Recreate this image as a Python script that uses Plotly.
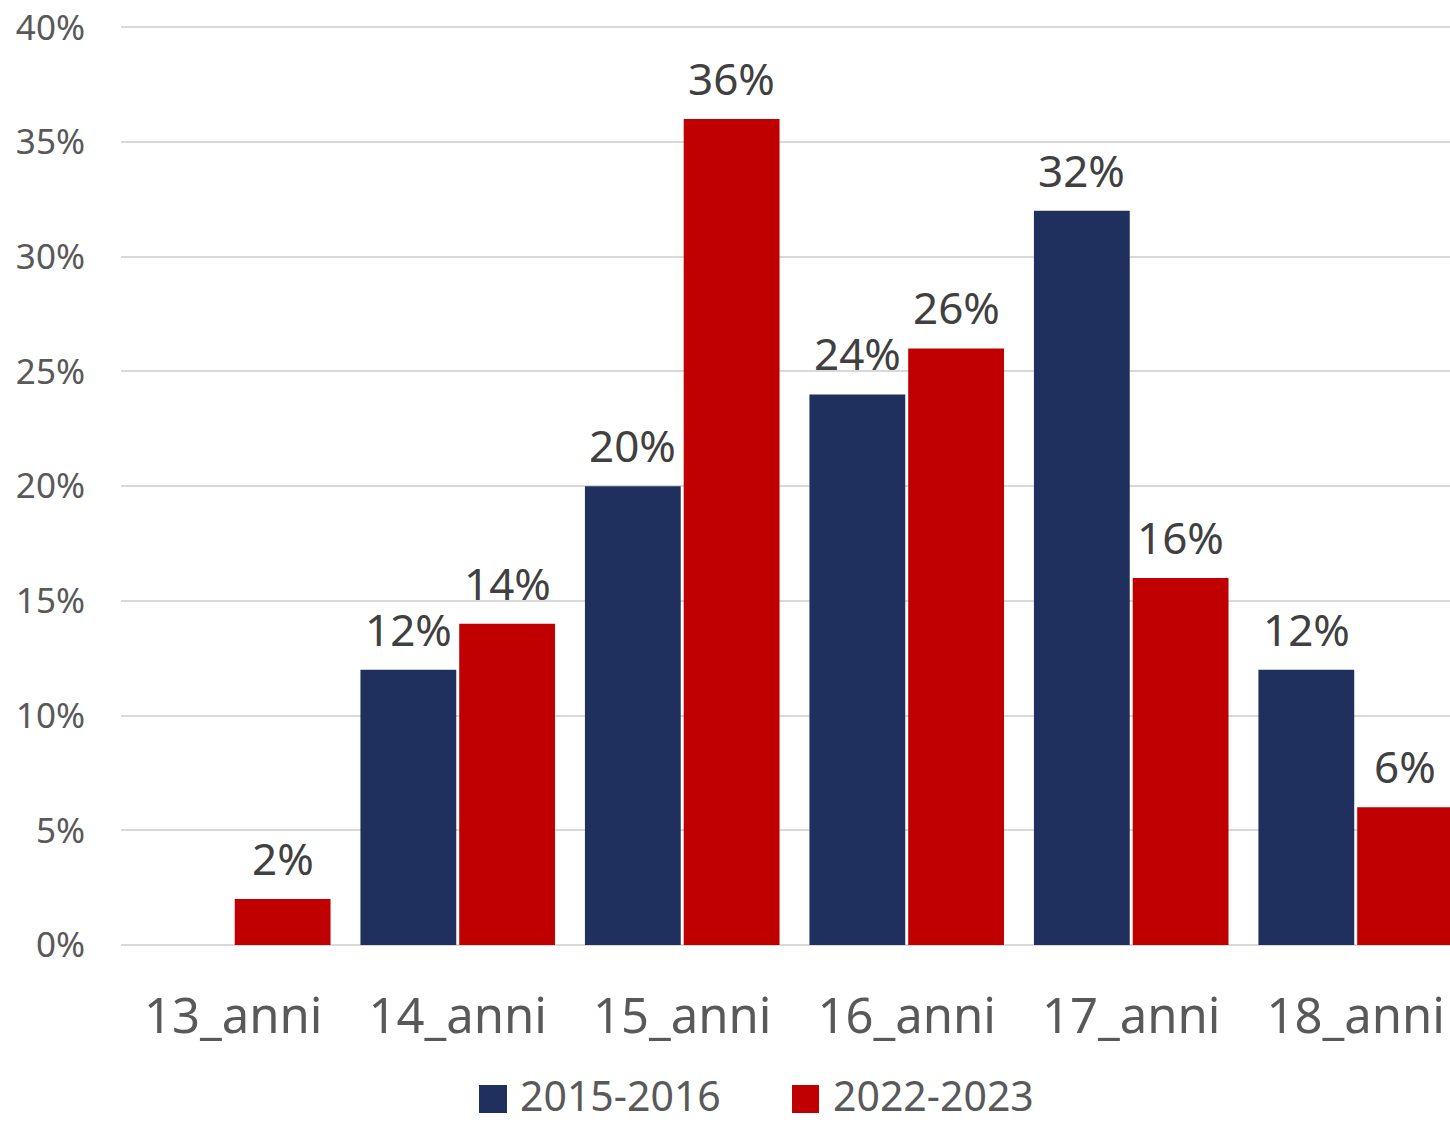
import plotly.graph_objects as go

categories = ["13_anni", "14_anni", "15_anni", "16_anni", "17_anni", "18_anni"]
s2015 = [None, 12, 20, 24, 32, 12]
s2022 = [2, 14, 36, 26, 16, 6]
series_names = ["2015-2016", "2022-2023"]
colors = ["#1F305E", "#C00000"]
y_ticks = [0, 5, 10, 15, 20, 25, 30, 35, 40]
y_tick_labels = [f"{v}%" for v in y_ticks]

FONT = "Noto Sans"
W, H = 1450, 1126
ML, MR, MT, MB = 121, 0, 25, 181
BARGAP = 0.12
XRANGE = [-0.5, 5.42]
YRANGE = [0, 40.1]

plot_w = W - ML - MR
plot_h = H - MT - MB
cat_px = plot_w / (XRANGE[1] - XRANGE[0])
slot_px = cat_px * (1 - BARGAP) / 2

fig = go.Figure()
annotations = []
for i, (name, vals, col) in enumerate(zip(series_names, [s2015, s2022], colors)):
    fig.add_trace(go.Bar(
        name=name, x=categories, y=vals, marker_color=col,
        marker_line_width=0, showlegend=False,
    ))
    for c, v in zip(categories, vals):
        if v is None:
            continue
        annotations.append(dict(
            x=c, y=v, xref="x", yref="y", text=f"{v}%", showarrow=False,
            xanchor="center", yanchor="bottom", xshift=(i - 0.5) * slot_px, yshift=9,
            font=dict(family=FONT, size=44, color="#404040"),
        ))

# legend drawn as shapes + text (positions in page px -> paper)
def px_x(X):
    return (X - ML) / plot_w

def px_y(Y):
    return (H - MB - Y) / plot_h

shapes = []
leg_boxes = [(479, 507), (792, 819)]
leg_text_x = [519, 832]
for name, col, (a, b), tx in zip(series_names, colors, leg_boxes, leg_text_x):
    shapes.append(dict(type="rect", xref="paper", yref="paper",
                       x0=px_x(a), x1=px_x(b), y0=px_y(1113), y1=px_y(1085),
                       fillcolor=col, line_width=0))
    annotations.append(dict(x=px_x(tx), y=px_y(1095), xref="paper", yref="paper",
                            text=name, showarrow=False, xanchor="left", yanchor="middle",
                            font=dict(family=FONT, size=41, color="#595959"), borderpad=0))

fig.update_layout(
    width=W, height=H,
    margin=dict(l=ML, r=MR, t=MT, b=MB),
    plot_bgcolor="white", paper_bgcolor="white",
    barmode="group", bargap=BARGAP, bargroupgap=0.03,
    font=dict(family=FONT, color="#595959"),
    showlegend=False,
    annotations=annotations, shapes=shapes,
)
fig.update_yaxes(range=YRANGE, tickmode="array", tickvals=y_ticks, ticktext=y_tick_labels,
                 showgrid=True, gridcolor="#D9D9D9", gridwidth=2,
                 zeroline=True, zerolinecolor="#D9D9D9", zerolinewidth=2,
                 tickfont=dict(family=FONT, size=35, color="#595959"),
                 ticks="", ticklabelstandoff=35, ticklabeloverflow="allow")
fig.update_xaxes(range=XRANGE, tickfont=dict(family=FONT, size=49, color="#595959"),
                 ticks="", ticklabelstandoff=38, showline=False)

fig.write_html("out.html", config={"displayModeBar": False},
               post_script="document.body.style.margin='0px';")
